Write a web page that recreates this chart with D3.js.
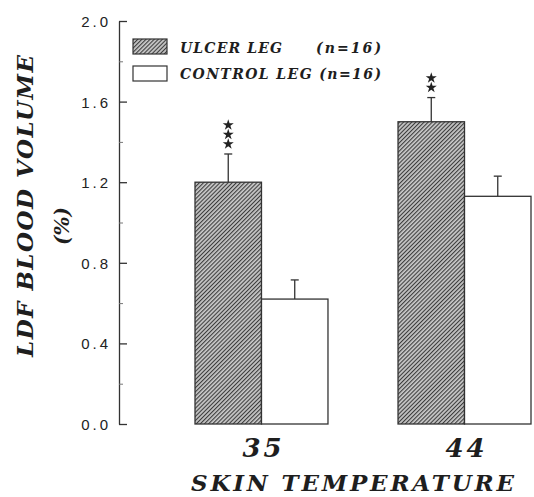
<!DOCTYPE html>
<html>
<head>
<meta charset="utf-8">
<script src="https://cdn.jsdelivr.net/npm/d3@7"></script>
<style>
  body { margin: 0; background: #fff; }
  svg { display: block; }
  .serif { font-family: "DejaVu Serif", "Liberation Serif", serif; font-weight: bold; font-style: italic; fill: #1e1e1e; }
  .tick text { font-family: "Liberation Sans", Arial, sans-serif; font-size: 15px; fill: #222; letter-spacing: 3px; }
</style>
</head>
<body>
<svg id="chart" width="534" height="497"></svg>
<script>
// data
var temps = ["35", "44"];
var groups = ["ulcer", "control"];
var ulcerMean = [1.20, 1.50];
var ulcerErr = [1.34, 1.62];
var controlMean = [0.62, 1.13];
var controlErr = [0.715, 1.23];
var stars = ["***", "**"];
var yTicks = [0, 0.4, 0.8, 1.2, 1.6, 2.0];
var yMinor = [0.2, 0.6, 1.0, 1.4, 1.8];

var svg = d3.select("#chart");
var ink = "#333";

var y = d3.scaleLinear().domain([0, 2]).range([424, 21]);
var x = d3.scaleBand().domain(temps).range([195, 531]).paddingInner(0.345).paddingOuter(0);
var xs = d3.scaleBand().domain(groups).range([0, x.bandwidth()]);

// hatch pattern
var pat = svg.append("defs").append("pattern")
	.attr("id", "hatch")
	.attr("patternUnits", "userSpaceOnUse")
	.attr("width", 2.9)
	.attr("height", 2.9)
	.attr("patternTransform", "rotate(45)");
pat.append("rect").attr("width", 2.9).attr("height", 2.9).attr("fill", "#c8c8c8");
pat.append("line").attr("x1", 0).attr("y1", 0).attr("x2", 0).attr("y2", 2.9)
	.attr("stroke", "#3c3c3c").attr("stroke-width", 2.2);

// y axis
var axis = svg.append("g").attr("transform", "translate(119,0)")
	.call(d3.axisLeft(y).tickValues(yTicks).tickFormat(d3.format(".1f")).tickSizeInner(-8).tickSizeOuter(0).tickPadding(8));
axis.select(".domain").attr("stroke", ink).attr("stroke-width", 1.3);
axis.selectAll(".tick line").attr("stroke", ink).attr("stroke-width", 1.3);
axis.selectAll(".tick text").attr("dy", "0.36em");

var minor = svg.append("g").attr("transform", "translate(119,0)")
	.call(d3.axisLeft(y).tickValues(yMinor).tickFormat("").tickSizeInner(-4).tickSizeOuter(0));
minor.select(".domain").remove();
minor.selectAll(".tick line").attr("stroke", "#777").attr("stroke-width", 1);

// bars
var rows = temps.map(function(t, i) {
	return [
		{temp: t, key: "ulcer", v: ulcerMean[i], e: ulcerErr[i]},
		{temp: t, key: "control", v: controlMean[i], e: controlErr[i]}
	];
});
var flat = [].concat.apply([], rows);

var bar = svg.append("g").selectAll("g").data(flat).enter().append("g");

bar.append("line")
	.attr("x1", function(d) { return x(d.temp) + xs(d.key) + xs.bandwidth() / 2; })
	.attr("x2", function(d) { return x(d.temp) + xs(d.key) + xs.bandwidth() / 2; })
	.attr("y1", function(d) { return y(d.v); })
	.attr("y2", function(d) { return y(d.e); })
	.attr("stroke", ink).attr("stroke-width", 1.3);
bar.append("line")
	.attr("x1", function(d) { return x(d.temp) + xs(d.key) + xs.bandwidth() / 2 - 4; })
	.attr("x2", function(d) { return x(d.temp) + xs(d.key) + xs.bandwidth() / 2 + 4; })
	.attr("y1", function(d) { return y(d.e); })
	.attr("y2", function(d) { return y(d.e); })
	.attr("stroke", ink).attr("stroke-width", 1.3);

bar.append("rect")
	.attr("x", function(d) { return x(d.temp) + xs(d.key); })
	.attr("y", function(d) { return y(d.v); })
	.attr("width", xs.bandwidth())
	.attr("height", function(d) { return y(0) - y(d.v); })
	.attr("fill", function(d) { return d.key == "ulcer" ? "url(#hatch)" : "#fff"; })
	.attr("stroke", ink).attr("stroke-width", 1.3);

// significance stars
var star = d3.symbol().type(d3.symbolStar).size(38);
temps.forEach(function(t, i) {
	var cx = x(t) + xs("ulcer") + xs.bandwidth() / 2;
	for (var k = 0; k < stars[i].length; k++) {
		svg.append("path").attr("d", star)
			.attr("transform", "translate(" + cx + "," + (y(ulcerErr[i]) - 10 - k * 9.5) + ")")
			.attr("fill", "#222");
	}
});

// category labels
svg.append("g").selectAll("text").data(temps).enter().append("text")
	.attr("class", "serif")
	.attr("x", function(d) { return x(d) + x.bandwidth() / 2 + 2; })
	.attr("y", 457)
	.attr("text-anchor", "middle")
	.attr("font-size", 26)
	.attr("letter-spacing", 3)
	.text(function(d) { return d; });

svg.append("text").attr("class", "serif")
	.attr("x", 191).attr("y", 491)
	.attr("font-size", 23)
	.attr("textLength", 323).attr("lengthAdjust", "spacing")
	.text("SKIN TEMPERATURE");

// y title
svg.append("text").attr("class", "serif")
	.attr("transform", "translate(33,357) rotate(-90)")
	.attr("font-size", 23)
	.attr("textLength", 302).attr("lengthAdjust", "spacing")
	.text("LDF BLOOD VOLUME");
svg.append("text").attr("class", "serif")
	.attr("transform", "translate(69,226) rotate(-90)")
	.attr("text-anchor", "middle")
	.attr("font-size", 20)
	.text("(%)");

// legend
var legend = svg.append("g");
legend.append("rect").attr("x", 133).attr("y", 39).attr("width", 34).attr("height", 15)
	.attr("fill", "url(#hatch)").attr("stroke", ink).attr("stroke-width", 1.2);
legend.append("rect").attr("x", 133).attr("y", 66).attr("width", 34).attr("height", 15)
	.attr("fill", "#fff").attr("stroke", ink).attr("stroke-width", 1.2);
legend.append("text").attr("class", "serif").attr("x", 180).attr("y", 53)
	.attr("font-size", 14).attr("textLength", 102).attr("lengthAdjust", "spacing")
	.text("ULCER LEG");
legend.append("text").attr("class", "serif").attr("x", 316).attr("y", 53)
	.attr("font-size", 14).attr("textLength", 65).attr("lengthAdjust", "spacing")
	.text("(n=16)");
legend.append("text").attr("class", "serif").attr("x", 180).attr("y", 79)
	.attr("font-size", 14).attr("textLength", 201).attr("lengthAdjust", "spacing")
	.text("CONTROL LEG (n=16)");
</script>
</body>
</html>
